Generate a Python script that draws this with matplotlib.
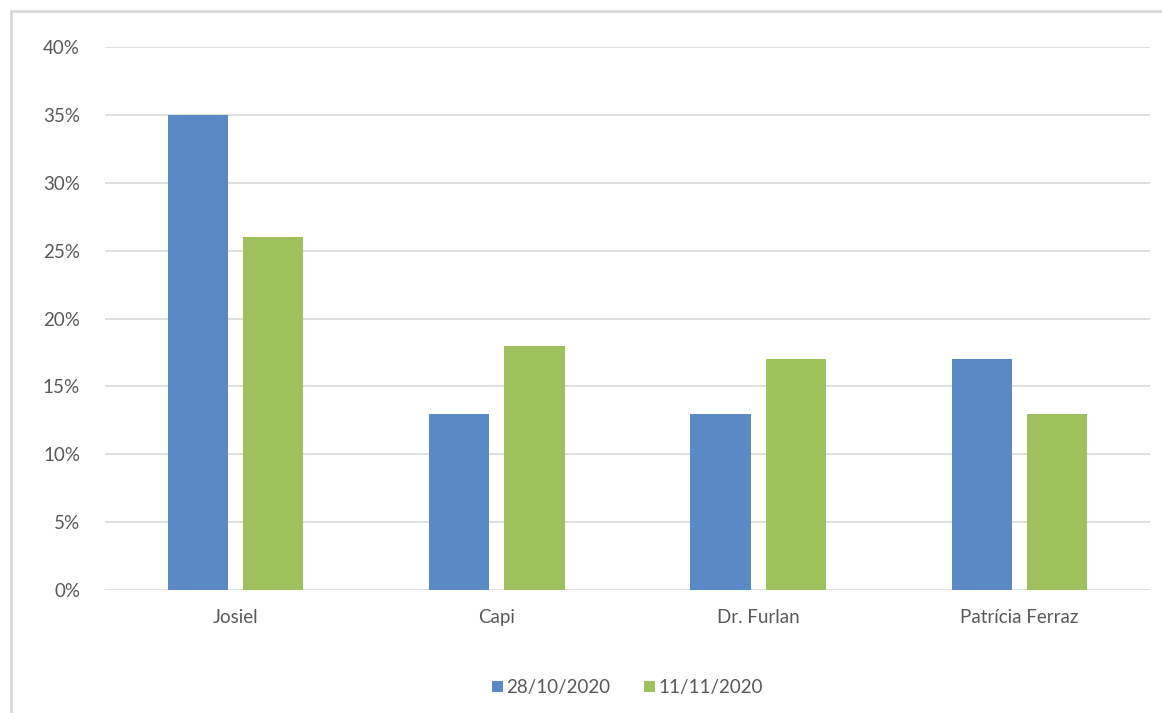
import matplotlib.pyplot as plt
import numpy as np
from matplotlib.lines import Line2D

plt.rcParams['font.family'] = ['Lato', 'DejaVu Sans']

candidates = ['Josiel', 'Capi', 'Dr. Furlan', 'Patrícia Ferraz']
poll_oct28 = [35, 13, 13, 17]
poll_nov11 = [26, 18, 17, 13]
series_labels = ['28/10/2020', '11/11/2020']
y_ticks = [0, 5, 10, 15, 20, 25, 30, 35, 40]

blue = '#5a8ac6'
green = '#9fc15c'
text_color = '#595959'

fig = plt.figure(figsize=(11.62, 7.13), dpi=100)
ax = fig.add_axes([0.0904, 0.1725, 0.8993, 0.7615])

x = np.arange(len(candidates))
width = 0.23
offset = 0.144
ax.bar(x - offset, poll_oct28, width, color=blue, label=series_labels[0], zorder=3)
ax.bar(x + offset, poll_nov11, width, color=green, label=series_labels[1], zorder=3)

ax.set_xlim(-0.5, len(candidates) - 0.5)
ax.set_ylim(0, 40)
ax.set_yticks(y_ticks)
ax.set_yticklabels([f'{v}%' for v in y_ticks])
ax.set_xticks(x)
ax.set_xticklabels(candidates)
ax.tick_params(axis='both', length=0, labelsize=13.5, colors=text_color)
ax.tick_params(axis='y', pad=18)
ax.tick_params(axis='x', pad=14)
ax.grid(axis='y', color='#d9d9d9', linewidth=1.2, zorder=0)
for s in ax.spines.values():
    s.set_visible(False)

ax.legend(loc='center', bbox_to_anchor=(0.5, -0.18), ncol=2, frameon=False,
          fontsize=13.5, labelcolor=text_color, handlelength=0.55, handleheight=0.55,
          handletextpad=0.2, columnspacing=1.8)

# outer border (top and left edges visible)
bx = 11 / 1162
by = 1 - 11 / 713
fig.add_artist(Line2D([bx, bx], [0, by], transform=fig.transFigure, color='#d4d4d4', linewidth=1.8))
fig.add_artist(Line2D([bx, 1], [by, by], transform=fig.transFigure, color='#d4d4d4', linewidth=1.8))

fig.savefig('out.png', dpi=100)
